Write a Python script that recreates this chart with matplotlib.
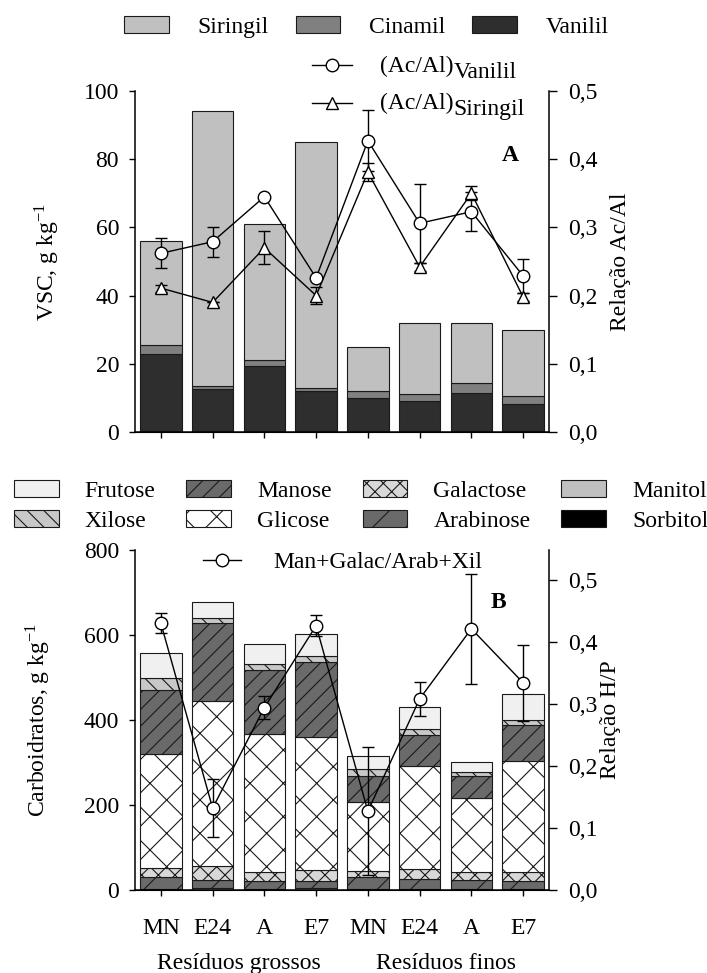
import numpy as np
import matplotlib.pyplot as plt
from matplotlib.lines import Line2D
from matplotlib.ticker import FuncFormatter

plt.rcParams['font.family'] = ['Liberation Serif', 'DejaVu Serif']
plt.rcParams['mathtext.fontset'] = 'stix'
plt.rcParams['hatch.linewidth'] = 0.8

tratamentos = ['MN', 'E24', 'A', 'E7', 'MN', 'E24', 'A', 'E7']
grupos = ['Resíduos grossos', 'Resíduos finos']

# Painel A - fenois derivados da lignina (g kg-1)
vanilil = [23, 12.5, 19.5, 12, 10, 9, 11.5, 8.2]
cinamil = [2.5, 1, 1.5, 1, 2, 2, 3, 2.4]
siringil = [30.5, 80.5, 40, 72, 13, 21, 17.5, 19.4]

# razoes Ac/Al
acal_van = [0.262, 0.279, 0.345, 0.226, 0.427, 0.306, 0.323, 0.229]
acal_van_err = [0.022, 0.022, 0.0, 0.0, 0.045, 0.058, 0.029, 0.025]
acal_sir = [0.211, 0.19, 0.27, 0.2, 0.381, 0.242, 0.35, 0.198]
acal_sir_err = [0.005, 0.0, 0.024, 0.013, 0.013, 0.006, 0.01, 0.006]

# Painel B - carboidratos (g kg-1)
sorbitol = [1, 1, 1, 1, 1, 1, 1, 1]
manitol = [2, 4, 2, 4, 2, 2, 2, 2]
arabinose = [27, 18, 18, 16, 27, 24, 20, 18]
galactose = [22, 33, 21, 25, 15, 23, 19, 21]
glicose = [268, 389, 325, 314, 162, 242, 174, 262]
manose = [150, 183, 151, 176, 61, 73, 52, 84]
xilose = [29, 12, 14, 15, 17, 14, 10, 12]
frutose = [59, 38, 47, 51, 30, 51, 23, 61]

# razao H/P
hp = [0.430, 0.132, 0.294, 0.426, 0.127, 0.308, 0.421, 0.334]
hp_err = [0.016, 0.047, 0.019, 0.017, 0.103, 0.028, 0.089, 0.061]

FS = 17
W, H = 707, 973
virgula = FuncFormatter(lambda v, p: f'{v:.1f}'.replace('.', ','))

fig = plt.figure(figsize=(W / 100, H / 100), dpi=100)
axA = fig.add_axes([135 / W, 1 - 432 / H, 414 / W, 341 / H])
axB = fig.add_axes([135 / W, 1 - 890 / H, 414 / W, 340 / H])

x = np.arange(len(tratamentos))
kw = dict(width=0.8, edgecolor='#1a1a1a', linewidth=0.8)


def estilo(ax, ax2):
    ax.set_xlim(-0.5, 7.5)
    ax.spines['top'].set_visible(False)
    ax.spines['right'].set_visible(False)
    ax2.spines['top'].set_visible(False)
    ax2.spines['left'].set_visible(False)
    for s in ['left', 'bottom']:
        ax.spines[s].set_linewidth(1.1)
    ax2.spines['right'].set_linewidth(1.1)
    ax.tick_params(axis='y', labelsize=FS, length=4.5, width=1, pad=7)
    ax2.tick_params(axis='y', labelsize=FS, length=6, width=1, pad=8)
    ax2.yaxis.set_major_formatter(virgula)


# ---------- A ----------
b_van = axA.bar(x, vanilil, color='#2e2e2e', **kw)
b_cin = axA.bar(x, cinamil, bottom=vanilil, color='#808080', **kw)
b_sir = axA.bar(x, siringil, bottom=np.add(vanilil, cinamil), color='#c0c0c0', **kw)
axA.set_ylim(0, 100)
axA.set_yticks(np.arange(0, 101, 20))
axA.set_xticks(x)
axA.set_xticklabels([])
axA.tick_params(axis='x', length=4, width=1)
axA.set_ylabel('VSC, g kg$^{\\mathregular{-1}}$', fontsize=FS)
axA.yaxis.set_label_coords(-0.176, 0.5)

axA2 = axA.twinx()
estilo(axA, axA2)
axA2.set_ylim(0, 0.5)
axA2.set_yticks(np.arange(0, 0.51, 0.1))
eb = dict(color='black', lw=1, mfc='white', mec='black', mew=1, ms=9,
          capsize=4, elinewidth=1, capthick=1)
axA2.errorbar(x, acal_sir, yerr=acal_sir_err, marker='^', **eb)
axA2.errorbar(x, acal_van, yerr=acal_van_err, marker='o', **eb)
axA2.set_ylabel('Relação Ac/Al', fontsize=FS)
axA2.yaxis.set_label_coords(1.147, 0.5)
axA.text(0.906, 0.812, 'A', transform=axA.transAxes, fontsize=FS,
         fontweight='bold', ha='center', va='center')

fig.legend([b_sir, b_cin, b_van], ['Siringil', 'Cinamil', 'Vanilil'],
           loc='center left', bbox_to_anchor=(124 / W, 1 - 27 / H), ncol=3,
           frameon=False, fontsize=FS, handlelength=1.9, handleheight=0.75,
           handletextpad=1.2, columnspacing=1.15, borderpad=0, borderaxespad=0)

# legenda das linhas com subscrito
for mk, ym, yb, sub in [('o', 65, 72, 'Vanilil'), ('^', 103, 109, 'Siringil')]:
    fig.add_artist(Line2D([312 / W, 352 / W], [1 - ym / H] * 2, color='black', lw=1))
    fig.add_artist(Line2D([332 / W], [1 - ym / H], marker=mk, ms=9, mfc='white',
                          mec='black', mew=1, lw=0))
    t = fig.text(380 / W, 1 - yb / H, '(Ac/Al)', fontsize=FS, va='baseline')
    axA.annotate(sub, xy=(1, 0), xycoords=t, xytext=(0, -1),
                 textcoords='offset points', fontsize=FS, va='baseline')

# ---------- B ----------
camadas = [
    ('Sorbitol', sorbitol, 'black', ''),
    ('Manitol', manitol, '#c0c0c0', ''),
    ('Arabinose', arabinose, '#6a6a6a', '/'),
    ('Galactose', galactose, '#d8d8d8', 'xx'),
    ('Glicose', glicose, 'white', 'x'),
    ('Manose', manose, '#6a6a6a', '//'),
    ('Xilose', xilose, '#c8c8c8', '\\\\'),
    ('Frutose', frutose, '#f0f0f0', ''),
]
base = np.zeros(len(x))
barras = {}
for nome, vals, cor, hatch in camadas:
    barras[nome] = axB.bar(x, vals, bottom=base, color=cor, hatch=hatch, **kw)
    base = base + np.array(vals)

axB.set_ylim(0, 800)
axB.set_yticks(np.arange(0, 801, 200))
axB.set_xticks(x)
axB.set_xticklabels(tratamentos, fontsize=FS)
axB.tick_params(axis='x', length=4, width=1, pad=16)
axB.set_ylabel('Carboidratos, g kg$^{\\mathregular{-1}}$', fontsize=FS)
axB.yaxis.set_label_coords(-0.198, 0.5)
for xg, g in zip([1.5, 5.5], grupos):
    axB.text(xg, -0.215, g, transform=axB.get_xaxis_transform(), fontsize=FS,
             ha='center', va='center')

axB2 = axB.twinx()
estilo(axB, axB2)
axB2.set_ylim(0, 0.548)
axB2.set_yticks(np.arange(0, 0.51, 0.1))
axB2.errorbar(x, hp, yerr=hp_err, marker='o', **eb)
axB2.set_ylabel('Relação H/P', fontsize=FS)
axB2.yaxis.set_label_coords(1.123, 0.5)
axB.text(0.877, 0.847, 'B', transform=axB.transAxes, fontsize=FS,
         fontweight='bold', ha='center', va='center')

ordem = ['Frutose', 'Xilose', 'Manose', 'Glicose', 'Galactose', 'Arabinose',
         'Manitol', 'Sorbitol']
fig.legend([barras[n] for n in ordem], ordem, loc='center left',
           bbox_to_anchor=(14 / W, 1 - 506 / H), ncol=4, frameon=False,
           fontsize=FS, handlelength=1.9, handleheight=0.75, handletextpad=1.1,
           columnspacing=1.3, labelspacing=0.35, borderpad=0, borderaxespad=0)

linha_hp = Line2D([], [], color='black', lw=1, marker='o', ms=9, mfc='white',
                  mec='black', mew=1)
fig.legend([linha_hp], ['Man+Galac/Arab+Xil'], loc='center left',
           bbox_to_anchor=(203 / W, 1 - 562 / H), frameon=False, fontsize=FS,
           handlelength=1.6, handletextpad=1.4, borderpad=0, borderaxespad=0)

fig.savefig('out.png', dpi=100)
